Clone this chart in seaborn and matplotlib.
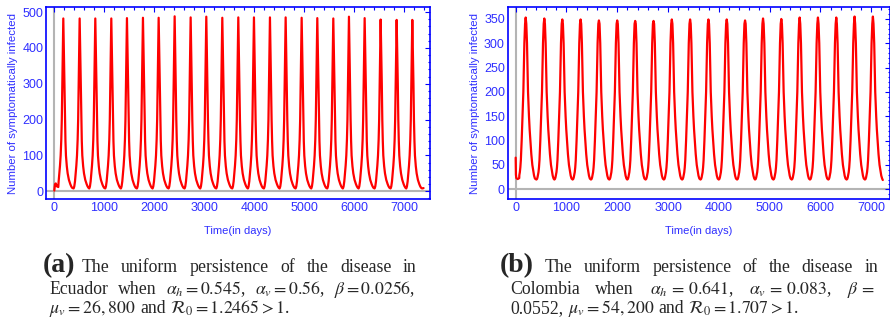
import matplotlib
matplotlib.use("Agg")
import matplotlib.pyplot as plt
import seaborn as sns
import pandas as pd
from matplotlib.ticker import MultipleLocator

# ---- data ----
# (a) Ecuador: peak days and peak heights
ec_peak_days = [180, 507, 820, 1140, 1453, 1773, 2087, 2407, 2727, 3040, 3360, 3680,
                3993, 4313, 4627, 4947, 5260, 5580, 5893, 6207, 6527, 6847, 7160]
ec_peak_vals = [482, 482, 482, 482, 483, 484, 484, 488, 485, 487, 484, 485,
                485, 485, 485, 484, 483, 482, 487, 483, 479, 478, 478]
# shape of one cycle around a peak (days relative to peak, infected)
ec_rise_off = [-122, -115, -107, -93, -80, -66, -53, -40, -30, -20, -10]
ec_rise_val = [8, 10, 14, 28, 50, 72, 100, 145, 200, 300, 400]
ec_fall_off = [10, 23, 33, 43, 53, 70, 87, 112, 140, 158, 175]
ec_fall_val = [400, 300, 200, 140, 100, 70, 50, 32, 20, 14, 10]
ec_start_days = [0, 15, 30, 50, 80]
ec_start_vals = [2, 20, 22, 14, 12]
ec_tail_days = [7355, 7385]
ec_tail_vals = [8, 9]

# (b) Colombia
co_peak_days = [197, 564, 918, 1278, 1639, 1999, 2353, 2714, 3074, 3434,
                3795, 4155, 4516, 4870, 5230, 5591, 5951, 6312, 6672, 7033]
co_peak_vals = [353, 351, 349, 349, 347, 347, 346, 346, 349, 349,
                349, 349, 347, 351, 350, 353, 353, 353, 355, 355]
co_rise_off = [-157, -145, -135, -125, -115, -105, -95, -79, -62, -46, -35, -26, -12]
co_rise_val = [20, 21, 24, 29, 35, 45, 60, 100, 150, 200, 250, 300, 340]
co_fall_off = [12, 26, 35, 46, 65, 78, 92, 111, 131, 150, 165, 182]
co_fall_val = [340, 300, 250, 200, 150, 123, 100, 72, 50, 37, 28, 22]
co_start_days = [0, 5, 12, 40, 70]
co_start_vals = [65, 30, 23, 21, 23]
co_tail_days = [7228]
co_tail_vals = [19]


def build(peaks, heights, r_off, r_val, f_off, f_val, s_d, s_v, t_d, t_v):
    days, vals = list(s_d), list(s_v)
    for p, h in zip(peaks, heights):
        for o, v in zip(r_off, r_val):
            if p + o > days[-1]:
                days.append(p + o)
                vals.append(v)
        days.append(p)
        vals.append(h)
        for o, v in zip(f_off, f_val):
            days.append(p + o)
            vals.append(v)
    days += t_d
    vals += t_v
    return pd.DataFrame({'day': days, 'infected': vals})


ec = build(ec_peak_days, ec_peak_vals, ec_rise_off, ec_rise_val, ec_fall_off, ec_fall_val,
           ec_start_days, ec_start_vals, ec_tail_days, ec_tail_vals)
co = build(co_peak_days, co_peak_vals, co_rise_off, co_rise_val, co_fall_off, co_fall_val,
           co_start_days, co_start_vals, co_tail_days, co_tail_vals)

sns.set_style("white")
plt.rcParams['font.family'] = ['Liberation Sans', 'DejaVu Sans']
plt.rcParams['mathtext.fontset'] = 'stix'

W, H = 890, 324
fig = plt.figure(figsize=(8.9, 3.24), dpi=100)
blue = '#0000ff'
tblue = '#2f2fff'


def frac(x0, x1, ytop, ybot):
    return [x0 / W, 1 - ybot / H, (x1 - x0) / W, (ybot - ytop) / H]


def style(ax, xlim, ylim, ymaj, ymin):
    ax.set_xlim(*xlim)
    ax.set_ylim(*ylim)
    ax.axhline(0, color='#b4b4b4', lw=1.5, zorder=0)
    ax.axvline(0, color='#b4b4b4', lw=1.5, zorder=0)
    ax.xaxis.set_major_locator(MultipleLocator(1000))
    ax.xaxis.set_minor_locator(MultipleLocator(200))
    ax.yaxis.set_major_locator(MultipleLocator(ymaj))
    ax.yaxis.set_minor_locator(MultipleLocator(ymin))
    ax.tick_params(which='both', direction='in', top=True, right=True, color=blue,
                   labelcolor=tblue, labelsize=9, width=0.8, pad=2)
    ax.tick_params(which='major', length=3.5)
    ax.tick_params(which='minor', length=1.8)
    for s in ax.spines.values():
        s.set_color(blue)
        s.set_linewidth(1.2)
    ax.set_xlabel('Time(in days)', color=tblue, fontsize=8, labelpad=9)
    ax.set_ylabel('Number of symptomatically infected', color=tblue, fontsize=8.2, labelpad=3)
    ax.grid(False)


ax1 = fig.add_axes(frac(46, 430, 7, 199))
sns.lineplot(data=ec, x='day', y='infected', ax=ax1, color='red', lw=1.6,
             estimator=None, sort=False)
style(ax1, (-166, 7514), (-21.4, 514), 100, 20)

ax2 = fig.add_axes(frac(507.7, 889.5, 7.3, 199))
sns.lineplot(data=co, x='day', y='infected', ax=ax2, color='red', lw=1.6,
             estimator=None, sort=False)
style(ax2, (-157, 7360), (-20, 374), 50, 10)

# ---- captions (justified like the paper) ----
serif = ['Liberation Serif', 'DejaVu Serif']
body = 12.8
renderer = fig.canvas.get_renderer()


def line(tokens, x0, x1, base, justify=True):
    texts = [fig.text(x0 / W, 1 - base / H, t, fontsize=body, family=serif,
                      va='baseline', ha='left') for t in tokens]
    widths = [t.get_window_extent(renderer).width for t in texts]
    if justify and len(texts) > 1:
        gap = (x1 - x0 - sum(widths)) / (len(texts) - 1)
    else:
        gap = body * 0.25 * 100 / 72
    x = x0
    for t, w in zip(texts, widths):
        t.set_x(x / W)
        x += w + gap


fig.text(42.7 / W, 1 - 272.3 / H, '(a)', fontsize=20, fontweight='bold', family=serif,
         va='baseline')
line(['The', 'uniform', 'persistence', 'of', 'the', 'disease', 'in'], 81.7, 416.7, 272.3)
line(['Ecuador', 'when', r'$\alpha_h = 0.545$,', r'$\alpha_v = 0.56$,', r'$\beta = 0.0256$,'],
     49.3, 415, 294)
line([r'$\mu_v = 26,\!\,800$', 'and', r'$\mathcal{R}_0 = 1.2465 > 1$.'], 49.3, 0, 313.3,
     justify=False)

fig.text(500 / W, 1 - 272.3 / H, '(b)', fontsize=20, fontweight='bold', family=serif,
         va='baseline')
line(['The', 'uniform', 'persistence', 'of', 'the', 'disease', 'in'], 545, 878, 272.3)
line(['Colombia', 'when', r'$\alpha_h\, =\, 0.641$,', r'$\alpha_v\, =\, 0.083$,', r'$\beta\, =$'],
     510, 875, 294)
line(['0.0552,', r'$\mu_v = 54,\!\,200$', 'and', r'$\mathcal{R}_0 = 1.707 > 1$.'], 510, 0, 313.3,
     justify=False)

fig.savefig('out.png', dpi=100)
